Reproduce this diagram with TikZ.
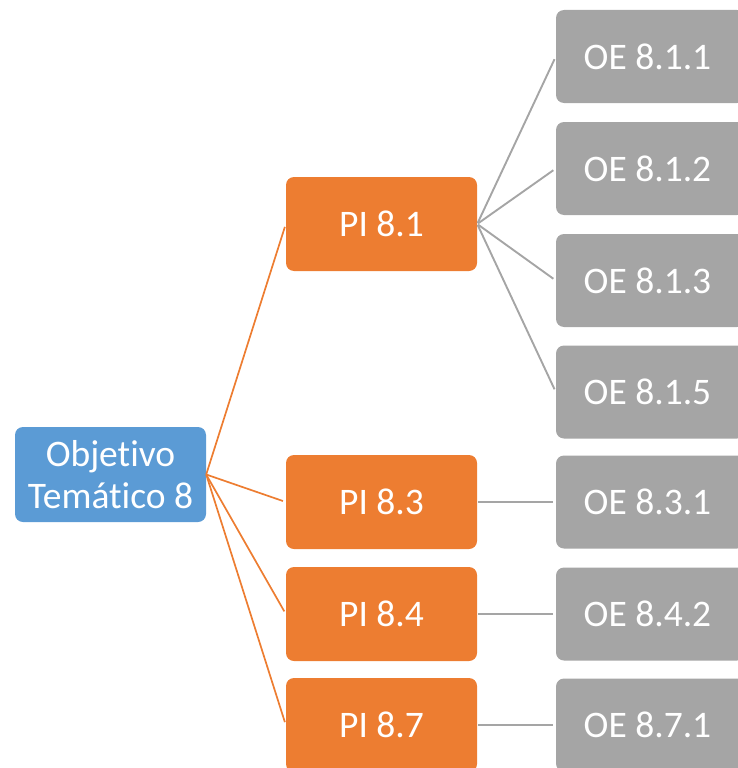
\documentclass[tikz,border=0pt]{standalone}
\usepackage{fontspec}
\setmainfont{Carlito}[Ligatures={NoCommon}]
\definecolor{cblue}{HTML}{5B9BD5}
\definecolor{corange}{HTML}{ED7D31}
\definecolor{cgray}{HTML}{A5A5A5}
\begin{document}
\begin{tikzpicture}[x=1pt,y=-1pt,
  box/.style={rounded corners=8pt, text=white, inner sep=0pt, align=center,
    font=\fontsize{37.5}{42}\selectfont},
  bluebox/.style={box, fill=cblue, minimum width=191pt, minimum height=95pt},
  orangebox/.style={box, fill=corange, minimum width=191pt, minimum height=94pt},
  graybox/.style={box, fill=cgray, minimum width=189pt, minimum height=93pt},
  oline/.style={draw=corange, line width=1.7pt, shorten >=3pt},
  gline/.style={draw=cgray, line width=1.9pt, shorten >=3pt, shorten <=1pt}]
\useasboundingbox (0,0) rectangle (738,768);
\begin{scope}
\clip (0,0) rectangle (738,768);
\node[bluebox] (ot) at (110.5,474.5) {Objet\kern0pt ivo\\Temát\kern0pt ico 8};
\node[orangebox] (p1) at (381.5,224) {PI 8.1};
\node[orangebox] (p3) at (381.5,502) {PI 8.3};
\node[orangebox] (p4) at (381.5,614) {PI 8.4};
\node[orangebox] (p7) at (381.5,725) {PI 8.7};
\node[graybox] (o11) at (650.5,56.5) {\hspace*{-6pt}OE 8.1.1};
\node[graybox] (o12) at (650.5,168.5) {\hspace*{-6pt}OE 8.1.2};
\node[graybox] (o13) at (650.5,280.5) {\hspace*{-6pt}OE 8.1.3};
\node[graybox] (o15) at (650.5,392) {\hspace*{-6pt}OE 8.1.5};
\node[graybox] (o31) at (650.5,502) {\hspace*{-6pt}OE 8.3.1};
\node[graybox] (o42) at (650.5,614) {\hspace*{-6pt}OE 8.4.2};
\node[graybox] (o71) at (650.5,725) {\hspace*{-6pt}OE 8.7.1};
\draw[oline] (ot.east) -- (p1.west);
\draw[oline] (ot.east) -- (p3.west);
\draw[oline] (ot.east) -- (p4.west);
\draw[oline] (ot.east) -- (p7.west);
\draw[gline] (p1.east) -- (o11.west);
\draw[gline] (p1.east) -- (o12.west);
\draw[gline] (p1.east) -- (o13.west);
\draw[gline] (p1.east) -- (o15.west);
\draw[gline] (p3.east) -- (o31.west);
\draw[gline] (p4.east) -- (o42.west);
\draw[gline] (p7.east) -- (o71.west);
\end{scope}
\end{tikzpicture}
\end{document}
